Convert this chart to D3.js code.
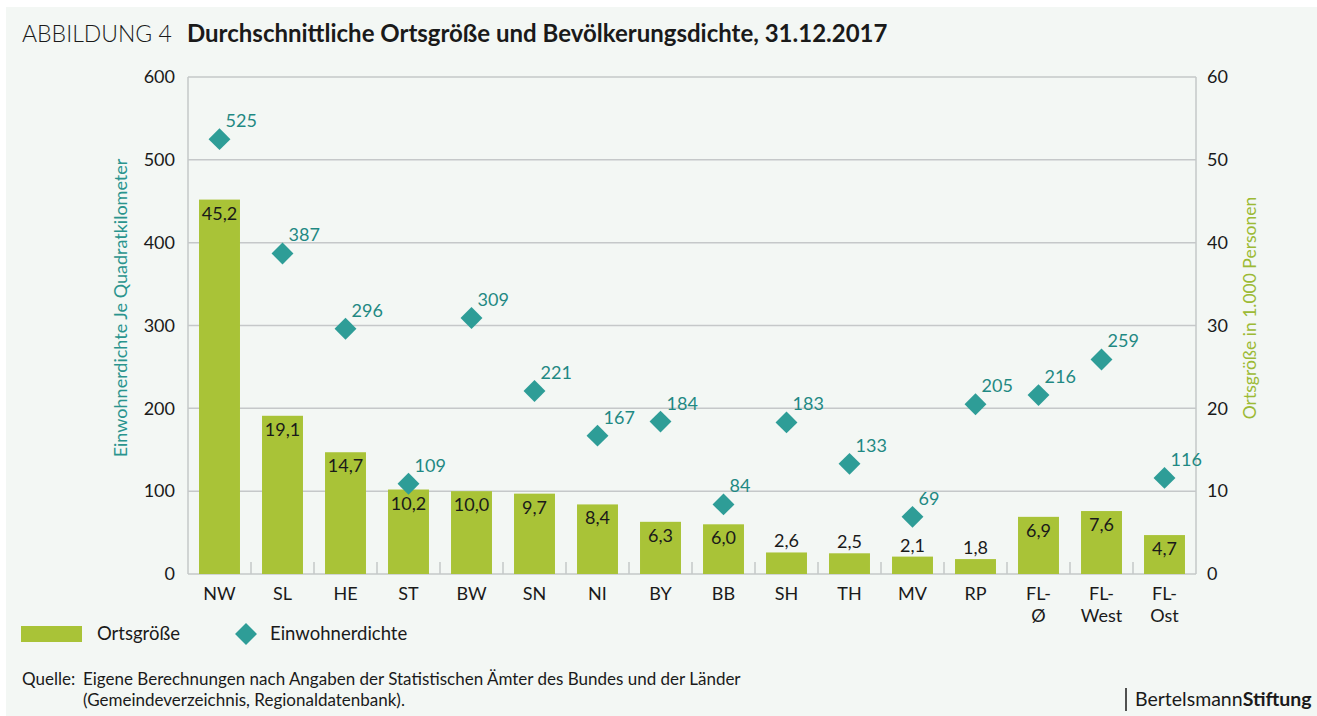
<!DOCTYPE html>
<html>
<head>
<meta charset="utf-8">
<script src="https://cdn.jsdelivr.net/npm/d3@7"></script>
<style>
  body { margin: 0; background: #fff; }
  svg { display: block; font-family: Lato, "Open Sans", sans-serif; }
</style>
</head>
<body>
<svg id="chart" width="1317" height="716"></svg>
<script>
// Bundeslaender / Flaechenlaender
const categories = ['NW', 'SL', 'HE', 'ST', 'BW', 'SN', 'NI', 'BY', 'BB', 'SH', 'TH', 'MV', 'RP', 'FL-Ø', 'FL-West', 'FL-Ost'];
// Ortsgroesse in 1.000 Personen (bars, right axis)
const ortsgroesse = [45.2, 19.1, 14.7, 10.2, 10.0, 9.7, 8.4, 6.3, 6.0, 2.6, 2.5, 2.1, 1.8, 6.9, 7.6, 4.7];
// Einwohner je km2 (diamonds, left axis)
const dichte = [525, 387, 296, 109, 309, 221, 167, 184, 84, 183, 133, 69, 205, 216, 259, 116];
const leftTicks = [0, 100, 200, 300, 400, 500, 600];
const rightTicks = [0, 10, 20, 30, 40, 50, 60];

const COLORS = {
  bg: '#f3f7f4',
  bar: '#a9c337',
  diamond: '#2e9d97',
  diamondText: '#1f8983',
  grid: '#c5c8c9',
  text: '#1a1a1a',
};

const PLOT = { left: 188, right: 1196, top: 77, bottom: 574 };
const FS = 18;

const svg = d3.select('#chart');

svg.append('rect')
  .attr('x', 6).attr('y', 7)
  .attr('width', 1311).attr('height', 709)
  .attr('fill', COLORS.bg);

// title
svg.append('text')
  .attr('x', 22).attr('y', 42)
  .attr('font-size', 23)
  .attr('font-weight', 300)
  .attr('fill', COLORS.text)
  .text('ABBILDUNG 4');
svg.append('text')
  .attr('x', 187).attr('y', 42)
  .attr('font-size', 24)
  .attr('font-weight', 700)
  .attr('fill', COLORS.text)
  .text('Durchschnittliche Ortsgröße und Bevölkerungsdichte, 31.12.2017');

const x = d3.scaleBand()
  .domain(categories)
  .range([PLOT.left, PLOT.right])
  .paddingInner(0.35)
  .paddingOuter(0.175);

const yLeft = d3.scaleLinear().domain([0, 600]).range([PLOT.bottom, PLOT.top]);
const yRight = d3.scaleLinear().domain([0, 60]).range([PLOT.bottom, PLOT.top]);

// grid lines
svg.append('g')
  .selectAll('line')
  .data(leftTicks.slice(1))
  .join('line')
  .attr('x1', PLOT.left).attr('x2', PLOT.right)
  .attr('y1', d => yLeft(d)).attr('y2', d => yLeft(d))
  .attr('stroke', COLORS.grid)
  .attr('stroke-width', 1.5);

// axis frame lines
svg.append('line')
  .attr('x1', PLOT.left).attr('x2', PLOT.left)
  .attr('y1', PLOT.top).attr('y2', PLOT.bottom)
  .attr('stroke', COLORS.grid).attr('stroke-width', 1.5);
svg.append('line')
  .attr('x1', PLOT.right).attr('x2', PLOT.right)
  .attr('y1', PLOT.top).attr('y2', PLOT.bottom)
  .attr('stroke', COLORS.grid).attr('stroke-width', 1.5);

// category separator ticks
const step = x.step();
svg.append('g')
  .selectAll('line')
  .data(categories.slice(1))
  .join('line')
  .attr('x1', d => x(d) - (step - x.bandwidth()) / 2)
  .attr('x2', d => x(d) - (step - x.bandwidth()) / 2)
  .attr('y1', PLOT.bottom - 12).attr('y2', PLOT.bottom)
  .attr('stroke', COLORS.grid).attr('stroke-width', 1.5);

// left axis
const leftAxis = svg.append('g')
  .attr('transform', `translate(${PLOT.left},0)`)
  .call(d3.axisLeft(yLeft).tickValues(leftTicks).tickSize(0).tickPadding(13));
leftAxis.select('.domain').remove();
leftAxis.selectAll('text')
  .attr('font-family', 'Lato, sans-serif')
  .attr('font-size', FS)
  .attr('fill', COLORS.text);

// right axis
const rightAxis = svg.append('g')
  .attr('transform', `translate(${PLOT.right},0)`)
  .call(d3.axisRight(yRight).tickValues(rightTicks).tickSize(0).tickPadding(11));
rightAxis.select('.domain').remove();
rightAxis.selectAll('text')
  .attr('font-family', 'Lato, sans-serif')
  .attr('font-size', FS)
  .attr('fill', COLORS.text);

// axis titles
svg.append('text')
  .attr('transform', 'translate(127,308) rotate(-90)')
  .attr('text-anchor', 'middle')
  .attr('font-size', 18)
  .attr('fill', '#2a948e')
  .text('Einwohnerdichte Je Quadratkilometer');

svg.append('text')
  .attr('transform', 'translate(1256,308) rotate(-90)')
  .attr('text-anchor', 'middle')
  .attr('font-size', 17.5)
  .attr('fill', '#9cba35')
  .text('Ortsgröße in 1.000 Personen');

// bottom baseline
svg.append('line')
  .attr('x1', PLOT.left).attr('x2', PLOT.right)
  .attr('y1', PLOT.bottom).attr('y2', PLOT.bottom)
  .attr('stroke', COLORS.grid).attr('stroke-width', 1.5);

// bars
const rows = categories.map((c, i) => ({ cat: c, size: ortsgroesse[i], dens: dichte[i] }));
const fmt = v => d3.format('.1f')(v).replace('.', ',');

svg.append('g')
  .selectAll('rect')
  .data(rows)
  .join('rect')
  .attr('x', d => x(d.cat))
  .attr('y', d => yRight(d.size))
  .attr('width', x.bandwidth())
  .attr('height', d => yRight(0) - yRight(d.size))
  .attr('fill', COLORS.bar);

// bar labels (inside when the bar is tall enough)
svg.append('g')
  .selectAll('text')
  .data(rows)
  .join('text')
  .attr('x', d => x(d.cat) + x.bandwidth() / 2)
  .attr('y', d => d.size > 3.5 ? yRight(d.size) + 20 : yRight(d.size) - 5)
  .attr('text-anchor', 'middle')
  .attr('font-size', FS)
  .attr('fill', COLORS.text)
  .text(d => fmt(d.size));

// diamonds
const dSym = d3.symbol().type(d3.symbolSquare).size(240);
svg.append('g')
  .selectAll('path')
  .data(rows)
  .join('path')
  .attr('d', dSym)
  .attr('transform', d => `translate(${x(d.cat) + x.bandwidth() / 2},${yLeft(d.dens)}) rotate(45)`)
  .attr('fill', COLORS.diamond);

svg.append('g')
  .selectAll('text')
  .data(rows)
  .join('text')
  .attr('x', d => x(d.cat) + x.bandwidth() / 2 + 6)
  .attr('y', d => yLeft(d.dens) - 12)
  .attr('font-size', FS)
  .attr('fill', COLORS.diamondText)
  .text(d => d.dens);

// x labels (split "FL-xxx" into two lines)
const xl = svg.append('g')
  .selectAll('text')
  .data(categories)
  .join('text')
  .attr('x', d => x(d) + x.bandwidth() / 2)
  .attr('y', 600)
  .attr('text-anchor', 'middle')
  .attr('font-size', FS)
  .attr('fill', COLORS.text);
xl.each(function (d) {
  const t = d3.select(this);
  if (d.startsWith('FL-')) {
    t.append('tspan').attr('x', x(d) + x.bandwidth() / 2).text('FL-');
    t.append('tspan').attr('x', x(d) + x.bandwidth() / 2).attr('dy', 22).text(d.slice(3));
  } else {
    t.text(d);
  }
});

// legend
svg.append('rect')
  .attr('x', 21).attr('y', 626).attr('width', 61).attr('height', 16)
  .attr('fill', COLORS.bar);
svg.append('text')
  .attr('x', 97).attr('y', 640)
  .attr('font-size', 18.5).attr('fill', COLORS.text)
  .text('Ortsgröße');
svg.append('path')
  .attr('d', dSym)
  .attr('transform', 'translate(246,634) rotate(45)')
  .attr('fill', COLORS.diamond);
svg.append('text')
  .attr('x', 270).attr('y', 640)
  .attr('font-size', 18.5).attr('fill', COLORS.text)
  .text('Einwohnerdichte');

// source
const src = svg.append('g').attr('font-size', 17).attr('fill', COLORS.text);
src.append('text').attr('x', 22).attr('y', 685).text('Quelle:');
src.append('text').attr('x', 83).attr('y', 685)
  .text('Eigene Berechnungen nach Angaben der Statistischen Ämter des Bundes und der Länder');
src.append('text').attr('x', 83).attr('y', 706)
  .text('(Gemeindeverzeichnis, Regionaldatenbank).');

// logo
svg.append('line')
  .attr('x1', 1126).attr('x2', 1126)
  .attr('y1', 688).attr('y2', 711)
  .attr('stroke', COLORS.text).attr('stroke-width', 1.5);
const logo = svg.append('text')
  .attr('x', 1135).attr('y', 706)
  .attr('font-size', 19.5).attr('fill', COLORS.text);
logo.append('tspan').text('Bertelsmann');
logo.append('tspan').attr('font-weight', 700).text('Stiftung');
</script>
</body>
</html>
